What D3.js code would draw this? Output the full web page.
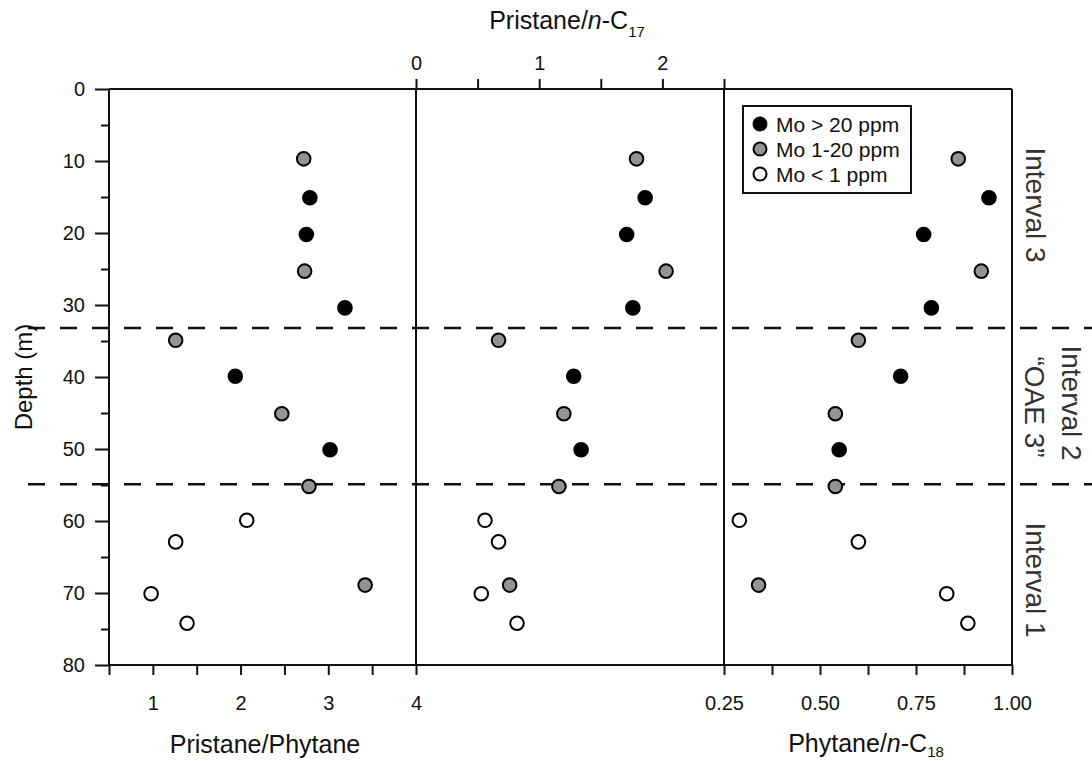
<!DOCTYPE html>
<html>
<head>
<meta charset="utf-8">
<script src="https://cdn.jsdelivr.net/npm/d3@7"></script>
<style>
  body { margin: 0; background: #fff; }
  svg { display: block; }
  text { font-family: "Liberation Sans", Arial, sans-serif; fill: #111; }
</style>
</head>
<body>
<svg id="chart" width="1092" height="761"></svg>
<script>
// Sample depths (m) and Mo enrichment class of each sample
const depth   = [9.7, 15.1, 20.2, 25.3, 30.4, 34.9, 39.9, 45.1, 50.1, 55.2, 59.9, 62.9, 68.9, 70.1, 74.2];
const moClass = ["mid", "high", "high", "mid", "high", "mid", "high", "mid", "high", "mid", "low", "low", "mid", "low", "low"];

// Biomarker ratios per sample
const pristanePhytane = [2.72, 2.79, 2.75, 2.73, 3.19, 1.26, 1.94, 2.47, 3.02, 2.78, 2.07, 1.26, 3.42, 0.98, 1.39];
const pristaneC17     = [1.79, 1.86, 1.71, 2.03, 1.76, 0.67, 1.28, 1.20, 1.34, 1.16, 0.56, 0.67, 0.76, 0.53, 0.82];
const phytaneC18      = [0.86, 0.94, 0.77, 0.92, 0.79, 0.60, 0.71, 0.54, 0.55, 0.54, 0.29, 0.60, 0.34, 0.83, 0.885];

// Interval boundaries (m)
const boundaries = [33.2, 54.9];

// Axis ticks
const depthTicks = [0, 5, 10, 15, 20, 25, 30, 35, 40, 45, 50, 55, 60, 65, 70, 75, 80];
const prPhTicks  = [0.5, 1, 1.5, 2, 2.5, 3, 3.5, 4];
const prC17Ticks = [0, 0.5, 1, 1.5, 2, 2.5];
const phC18Ticks = [0.25, 0.375, 0.5, 0.625, 0.75, 0.875, 1.0];

// Legend entries
const legendKeys   = ["high", "mid", "low"];
const legendLabels = ["Mo > 20 ppm", "Mo 1-20 ppm", "Mo < 1 ppm"];
const classFill    = { high: "#000000", mid: "#939393", low: "#ffffff" };

const svg = d3.select("#chart");

const y  = d3.scaleLinear().domain([0, 80]).range([89, 665]);
const x1 = d3.scaleLinear().domain([0.5, 4]).range([109, 416]);
const x2 = d3.scaleLinear().domain([0, 2.5]).range([416, 724]);
const x3 = d3.scaleLinear().domain([0.25, 1]).range([724, 1012]);

const TICK_FONT = 20;

function styleAxis(g) {
  g.select(".domain").remove();
  g.selectAll(".tick line").attr("stroke", "#111").attr("stroke-width", 2);
  g.selectAll(".tick text").style("font-size", TICK_FONT + "px").attr("fill", "#111");
}

// Left depth axis
const gy = svg.append("g")
  .attr("transform", `translate(${x1.range()[0]},0)`)
  .call(d3.axisLeft(y).tickValues(depthTicks)
    .tickFormat(d => d % 10 === 0 ? d : "")
    .tickSize(10).tickPadding(14));
styleAxis(gy);
gy.selectAll(".tick line").attr("x2", d => d % 10 === 0 ? -14 : -8);

// Bottom axis: Pristane/Phytane
const gb1 = svg.append("g")
  .attr("transform", `translate(0,${y.range()[1]})`)
  .call(d3.axisBottom(x1).tickValues(prPhTicks)
    .tickFormat(d => Number.isInteger(d) ? d : "")
    .tickSize(10).tickPadding(21));
styleAxis(gb1);

// Bottom axis: Phytane/n-C18
const gb3 = svg.append("g")
  .attr("transform", `translate(0,${y.range()[1]})`)
  .call(d3.axisBottom(x3).tickValues(phC18Ticks)
    .tickFormat(d => (Math.round(d * 1000) % 250 === 0) ? d3.format(".2f")(d) : "")
    .tickSize(10).tickPadding(21));
styleAxis(gb3);

// Top axis: Pristane/n-C17
const gt2 = svg.append("g")
  .attr("transform", `translate(0,${y.range()[0]})`)
  .call(d3.axisTop(x2).tickValues(prC17Ticks)
    .tickFormat(d => Number.isInteger(d) ? d : "")
    .tickSize(10).tickPadding(9));
styleAxis(gt2);

// Frame and panel dividers
const plotTop = y.range()[0], plotBottom = y.range()[1];
const plotLeft = x1.range()[0], plotRight = x3.range()[1];
const frame = svg.append("g").attr("stroke", "#111").attr("stroke-width", 2).attr("fill", "none");
frame.append("line").attr("x1", plotLeft).attr("x2", plotRight).attr("y1", plotTop).attr("y2", plotTop);
frame.append("line").attr("x1", plotLeft).attr("x2", plotRight).attr("y1", plotBottom).attr("y2", plotBottom);
[plotLeft, x1.range()[1], x2.range()[1], plotRight].forEach(xx => {
  frame.append("line").attr("x1", xx).attr("x2", xx).attr("y1", plotTop).attr("y2", plotBottom);
});

// Interval boundaries
svg.append("g").selectAll("line").data(boundaries).join("line")
  .attr("x1", 28).attr("x2", 1092)
  .attr("y1", d => y(d)).attr("y2", d => y(d))
  .attr("stroke", "#111").attr("stroke-width", 2.5)
  .attr("stroke-dasharray", "17,15");

// Data points
const R = 6.8;
function drawPanel(scale, values) {
  svg.append("g").selectAll("circle").data(values).join("circle")
    .attr("cx", d => scale(d))
    .attr("cy", (d, i) => y(depth[i]))
    .attr("r", R)
    .attr("fill", (d, i) => classFill[moClass[i]])
    .attr("stroke", "#000").attr("stroke-width", 2);
}
drawPanel(x1, pristanePhytane);
drawPanel(x2, pristaneC17);
drawPanel(x3, phytaneC18);

// Legend
const lg = svg.append("g").attr("transform", "translate(743,106)");
lg.append("rect").attr("width", 168).attr("height", 87)
  .attr("fill", "#fff").attr("stroke", "#111").attr("stroke-width", 2);
legendKeys.forEach((k, i) => {
  const cy = 18 + i * 25;
  lg.append("circle").attr("cx", 17).attr("cy", cy).attr("r", 6.5)
    .attr("fill", classFill[k]).attr("stroke", "#000").attr("stroke-width", 2);
  lg.append("text").attr("x", 33).attr("y", cy + 7.5)
    .style("font-size", "21px").text(legendLabels[i]);
});

// Axis titles
svg.append("text").attr("x", 265).attr("y", 753).attr("text-anchor", "middle")
  .style("font-size", "25px").text("Pristane/Phytane");

const tB = svg.append("text").attr("x", 866).attr("y", 752).attr("text-anchor", "middle")
  .style("font-size", "25px");
tB.append("tspan").text("Phytane/");
tB.append("tspan").style("font-style", "italic").text("n");
tB.append("tspan").text("-C");
tB.append("tspan").attr("dy", 5).style("font-size", "15px").text("18");

const tT = svg.append("text").attr("x", 567).attr("y", 29).attr("text-anchor", "middle")
  .style("font-size", "25px");
tT.append("tspan").text("Pristane/");
tT.append("tspan").style("font-style", "italic").text("n");
tT.append("tspan").text("-C");
tT.append("tspan").attr("dy", 8).style("font-size", "15px").text("17");

svg.append("text").attr("transform", "translate(32,377) rotate(-90)")
  .attr("text-anchor", "middle").style("font-size", "24px").text("Depth (m)");

// Interval labels on the right
const intervalStyle = t => t.attr("text-anchor", "middle").style("font-size", "28px").style("fill", "#333");
svg.append("text").attr("transform", "translate(1026,205) rotate(90)").call(intervalStyle).text("Interval 3");
svg.append("text").attr("transform", "translate(1062,403) rotate(90)").call(intervalStyle).text("Interval 2");
svg.append("text").attr("transform", "translate(1025,407) rotate(90)").call(intervalStyle).text("\u201COAE 3\u201D");
svg.append("text").attr("transform", "translate(1026,580) rotate(90)").call(intervalStyle).text("Interval 1");
</script>
</body>
</html>
